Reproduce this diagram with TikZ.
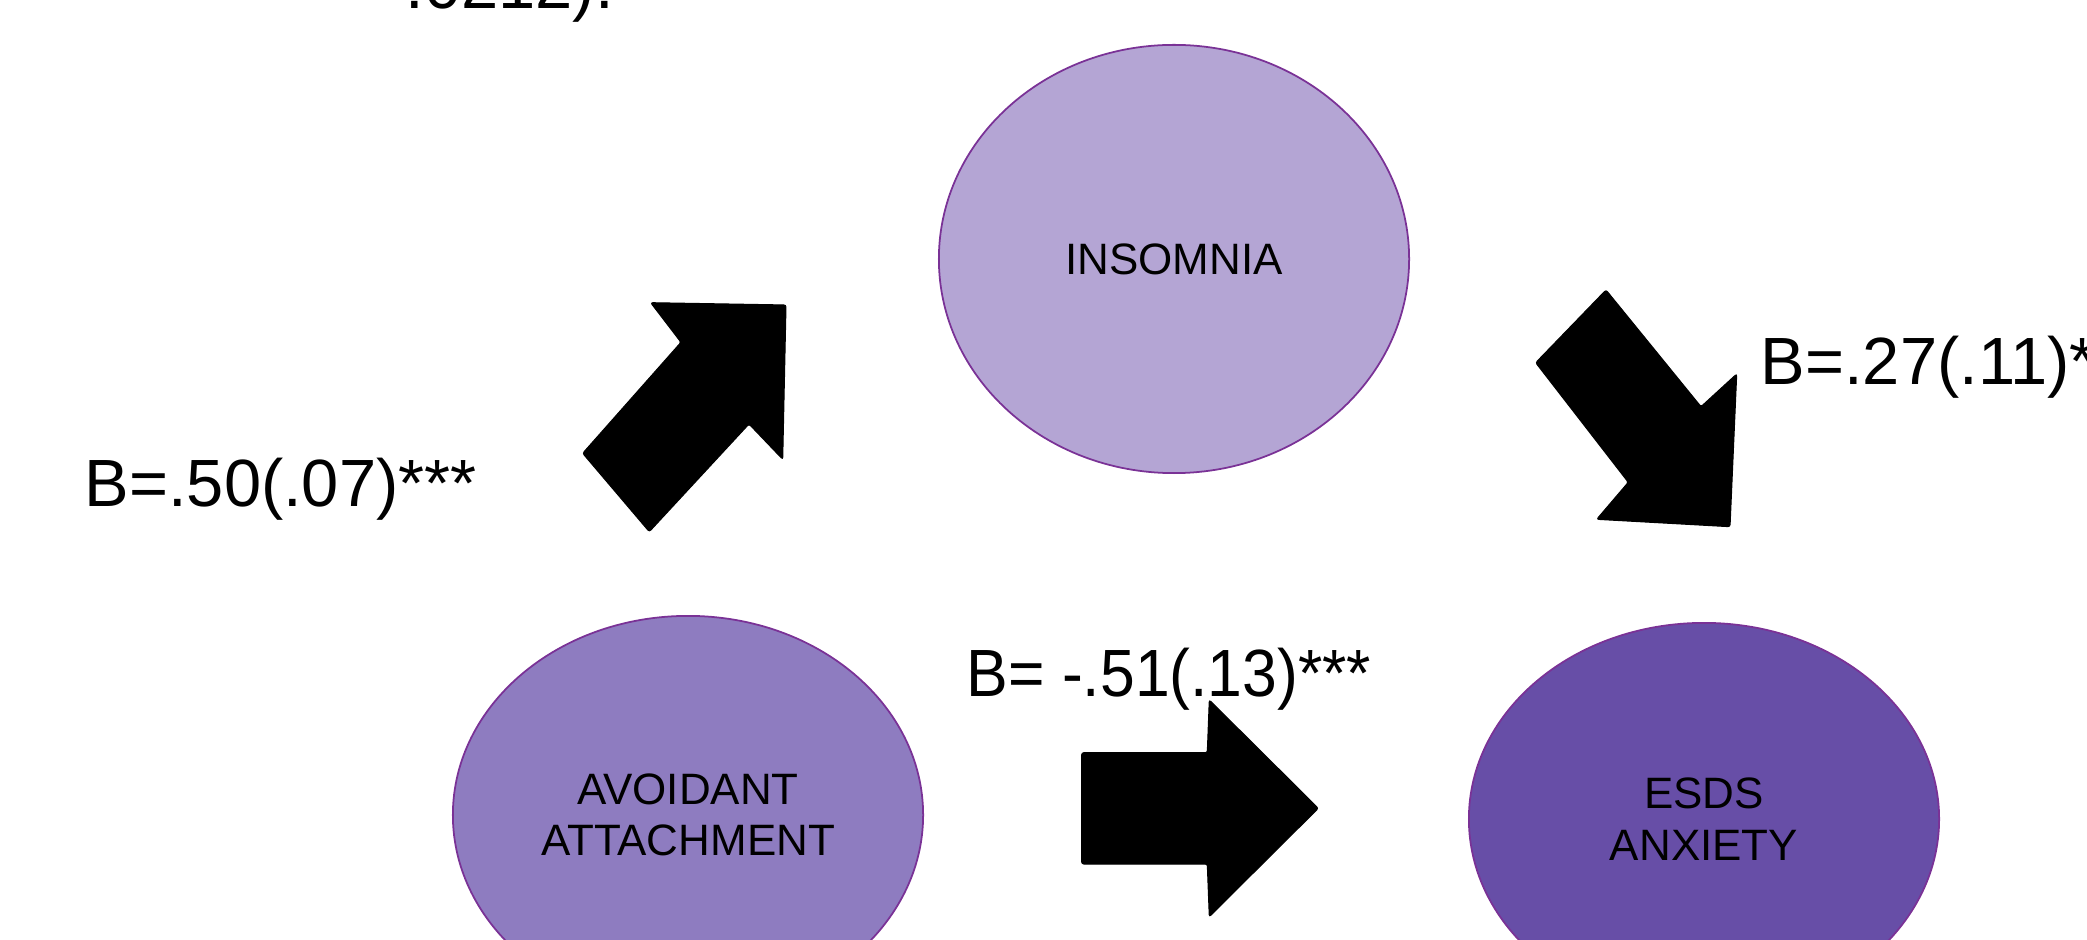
\documentclass[tikz,border=0pt]{standalone}
\usepackage{fontspec}
\usepackage{graphicx}
\setmainfont{Liberation Sans}
\usetikzlibrary{shapes.geometric}
\definecolor{insfill}{HTML}{B4A5D4}
\definecolor{avfill}{HTML}{8E7CC0}
\definecolor{esfill}{HTML}{674EA7}
\definecolor{edgepurple}{HTML}{7A3296}
\tikzset{
  oval/.style={ellipse, draw=edgepurple, line width=0.5pt, inner sep=0pt,
    minimum width=4.70cm, align=center, font=\fontsize{12.5}{14.7}\selectfont},
  blockarrow/.style={fill=black, draw=black, line width=0.3pt, rounded corners=0.6pt},
  coef/.style={anchor=base west, inner sep=0pt, font=\fontsize{19}{22}\selectfont}
}
\begin{document}
\begin{tikzpicture}[x=0.01cm, y=-0.01cm]
\useasboundingbox (0,0) rectangle (2087,940);
\begin{scope}
\clip (0,0) rectangle (2087,940);
\node[oval, fill=insfill, minimum height=4.28cm] (insomnia) at (1174,259) {INSOMNIA};
\node[oval, fill=avfill, minimum height=3.98cm] (avoid) at (688,815) {AVOIDANT\\ATTACHMENT};
\node[oval, fill=esfill, minimum height=3.92cm] (esds) at (1704,819) {ESDS\\ANXIETY};

% arrow avoidant -> insomnia
\coordinate (a1) at (650.7,302.7);
\coordinate (a2) at (786,305);
\coordinate (a3) at (782.7,459.3);
\coordinate (a4) at (749,424);
\coordinate (a5) at (649.3,531.7);
\coordinate (a6) at (582.7,453.3);
\coordinate (a7) at (681,342.3);
\fill[blockarrow] (a1) -- (a2) -- (a3) -- (a4) -- (a5) -- (a6) -- (a7) -- cycle;

% arrow insomnia -> esds
\coordinate (b1) at (1606,290);
\coordinate (b2) at (1701,406.7);
\coordinate (b3) at (1736.7,374);
\coordinate (b4) at (1730,526.7);
\coordinate (b5) at (1596.7,519.3);
\coordinate (b6) at (1628.3,482.3);
\coordinate (b7) at (1535.7,362.7);
\fill[blockarrow] (b1) -- (b2) -- (b3) -- (b4) -- (b5) -- (b6) -- (b7) -- cycle;

% arrow avoidant -> esds
\coordinate (c1) at (1081.7,752.7);
\coordinate (c2) at (1207.3,752.7);
\coordinate (c3) at (1209.3,700);
\coordinate (c4) at (1318.3,808.3);
\coordinate (c5) at (1209.3,916.7);
\coordinate (c6) at (1207.3,864);
\coordinate (c7) at (1081.7,864);
\fill[blockarrow] (c1) -- (c2) -- (c3) -- (c4) -- (c5) -- (c6) -- (c7) -- cycle;

\node[coef] (top) at (405,9) {.0212).};
\node[coef] (la) at (84,507) {B=.50(.07)***};
\node[coef] (lb) at (1760,385) {B=.27(.11)*};
\node[coef] (lc) at (966,697) {\scalebox{0.935}[1]{B= -.51(.13)***}};
\end{scope}
\end{tikzpicture}
\end{document}
